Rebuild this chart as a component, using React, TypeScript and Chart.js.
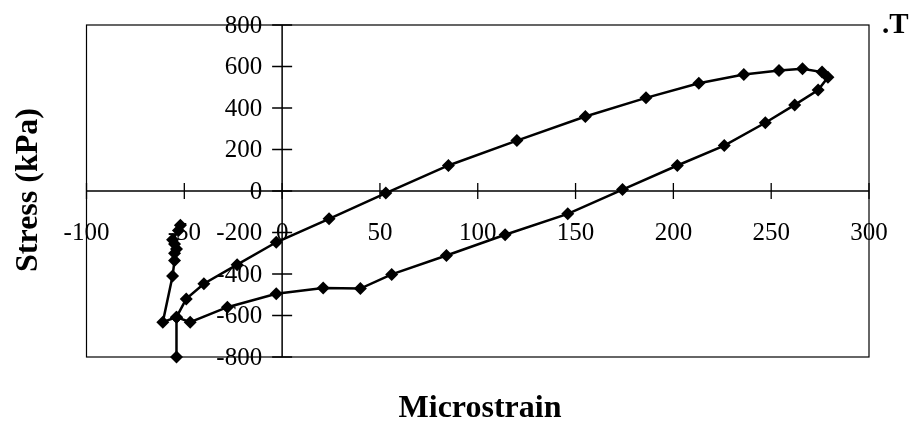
import React, { useEffect, useRef } from "react";
import { Chart, registerables } from "chart.js";

Chart.register(...registerables);

// Stress–strain hysteresis loop (one continuous path through the readings)
const strain = [
  -54, -54, -49, -40, -23, -3, 24, 53, 85, 120, 155, 186, 213, 236, 254, 266, 276, 279,
  274, 262, 247, 226, 202, 174, 146, 114, 84, 56, 40, 21, -3, -28, -47, -54, -61, -56,
  -55, -55, -54, -55, -56, -53, -52,
];
const stress = [
  -800, -608, -520, -447, -355, -247, -134, -10, 123, 243, 359, 449, 519, 561, 581, 589, 573, 548,
  487, 415, 329, 219, 123, 7, -110, -211, -311, -402, -470, -468, -495, -560, -632, -608, -632, -410,
  -335, -300, -280, -255, -235, -190, -165,
];

const xTicks = [-100, -50, 0, 50, 100, 150, 200, 250, 300];
const yTicks = [-800, -600, -400, -200, 0, 200, 400, 600, 800];

const xTitle = "Microstrain";
const yTitle = "Stress (kPa)";
const cornerText = ".T";

const SERIF = "'Liberation Serif', 'Times New Roman', serif";
const TICK_FONT = `25px ${SERIF}`;
const TITLE_FONT = `bold 32px ${SERIF}`;

// Draws the frame, the axes crossing at the origin, their ticks and labels
const crossAxesPlugin = {
  id: "crossAxes",
  beforeDatasetsDraw(chart: any) {
    const { ctx, chartArea: a, scales } = chart;
    const xs = scales.x;
    const ys = scales.y;
    const x0 = xs.getPixelForValue(0);
    const y0 = ys.getPixelForValue(0);
    ctx.save();
    ctx.strokeStyle = "#000";

    // frame
    ctx.lineWidth = 1.2;
    ctx.strokeRect(a.left, a.top, a.right - a.left, a.bottom - a.top);

    // axis lines
    ctx.lineWidth = 1.5;
    ctx.beginPath();
    ctx.moveTo(a.left, y0);
    ctx.lineTo(a.right, y0);
    ctx.moveTo(x0, a.top);
    ctx.lineTo(x0, a.bottom);
    ctx.stroke();

    // tick marks crossing the axes
    ctx.lineWidth = 1.3;
    ctx.beginPath();
    xTicks.forEach((v) => {
      const px = xs.getPixelForValue(v);
      ctx.moveTo(px, y0 - 8);
      ctx.lineTo(px, y0 + 8);
    });
    yTicks.forEach((v) => {
      const py = ys.getPixelForValue(v);
      ctx.moveTo(x0 - 10, py);
      ctx.lineTo(x0 + 10, py);
    });
    ctx.stroke();

    // tick labels
    ctx.fillStyle = "#000";
    ctx.font = TICK_FONT;
    ctx.textAlign = "center";
    ctx.textBaseline = "middle";
    xTicks.forEach((v) => {
      ctx.fillText(String(v), xs.getPixelForValue(v), y0 + 42);
    });
    ctx.textAlign = "right";
    yTicks.forEach((v) => {
      ctx.fillText(String(v), x0 - 20, ys.getPixelForValue(v) + 1);
    });
    ctx.restore();
  },
  afterDraw(chart: any) {
    const { ctx } = chart;
    ctx.save();
    ctx.fillStyle = "#000";
    ctx.font = TITLE_FONT;
    ctx.textAlign = "center";
    ctx.textBaseline = "alphabetic";
    ctx.fillText(xTitle, 480, 417);

    ctx.translate(37, 190);
    ctx.rotate(-Math.PI / 2);
    ctx.fillText(yTitle, 0, 0);
    ctx.restore();

    ctx.save();
    ctx.fillStyle = "#000";
    ctx.font = `bold 29px ${SERIF}`;
    ctx.textAlign = "left";
    ctx.textBaseline = "alphabetic";
    ctx.fillText(cornerText, 882, 33);
    ctx.restore();
  },
};

export default function App() {
  const canvasRef = useRef<HTMLCanvasElement | null>(null);

  useEffect(() => {
    const canvas = canvasRef.current;
    if (!canvas) return;
    const chart = new Chart(canvas, {
      type: "scatter",
      data: {
        datasets: [
          {
            data: strain.map((x, i) => ({ x, y: stress[i] })),
            showLine: true,
            borderColor: "#000",
            borderWidth: 2.5,
            backgroundColor: "#000",
            pointStyle: "rectRot",
            pointRadius: 6.5,
            pointBorderWidth: 0,
            pointBackgroundColor: "#000",
            tension: 0,
            clip: false,
          } as any,
        ],
      },
      options: {
        animation: false,
        responsive: false,
        devicePixelRatio: 1,
        layout: { padding: { left: 86.5, top: 25, right: 43, bottom: 70 } },
        plugins: {
          legend: { display: false },
          tooltip: { enabled: false },
          title: { display: false },
        },
        scales: {
          x: { type: "linear", min: -100, max: 300, display: false },
          y: { type: "linear", min: -800, max: 800, display: false },
        },
      },
      plugins: [crossAxesPlugin],
    });
    return () => chart.destroy();
  }, []);

  return (
    <div style={{ position: "fixed", left: 0, top: 0, width: 912, height: 427, background: "#fff" }}>
      <canvas ref={canvasRef} width={912} height={427} style={{ display: "block" }} />
    </div>
  );
}
